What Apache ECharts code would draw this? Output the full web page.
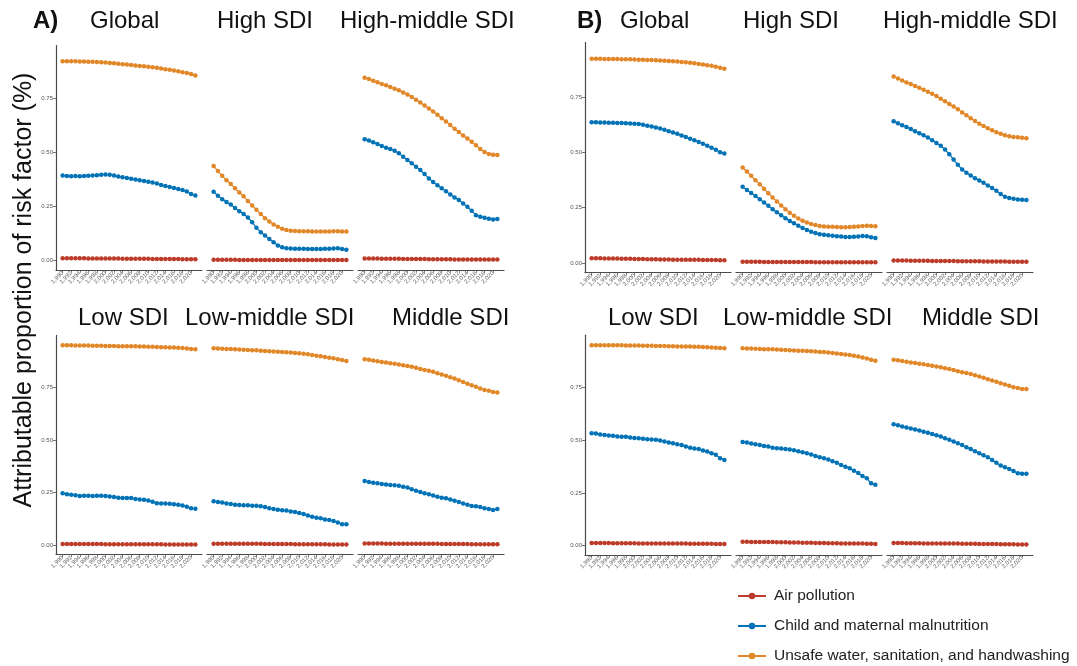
<!DOCTYPE html>
<html><head><meta charset="utf-8">
<script src="https://cdn.jsdelivr.net/npm/echarts@6/dist/echarts.min.js"></script>
<style>html,body{margin:0;padding:0;background:#fff}#c{width:1077px;height:666px}</style>
</head><body><div id="c"></div>
<script>
const years = [1990,1991,1992,1993,1994,1995,1996,1997,1998,1999,2000,2001,2002,2003,2004,2005,2006,2007,2008,2009,2010,2011,2012,2013,2014,2015,2016,2017,2018,2019,2020,2021];
const xTickYears = [1990,1992,1994,1996,1998,2000,2002,2004,2006,2008,2010,2012,2014,2016,2018,2020];
const yTickValues = [0, 0.25, 0.5, 0.75];
const seriesNames = ['Air pollution', 'Child and maternal malnutrition', 'Unsafe water, sanitation, and handwashing'];
const facetNames = ['Global', 'High SDI', 'High-middle SDI', 'Low SDI', 'Low-middle SDI', 'Middle SDI'];
const panelLabels = ['A)', 'B)'];
const yTitle = 'Attributable proportion of risk factor (%)';

// ---- Panel A ----
const A_global_air   = [.011,.011,.011,.011,.011,.011,.010,.010,.010,.010,.010,.010,.010,.010,.009,.009,.009,.009,.009,.009,.009,.008,.008,.008,.008,.008,.008,.008,.007,.007,.007,.007];
const A_global_child = [.394,.392,.391,.392,.391,.392,.393,.394,.396,.398,.399,.398,.395,.390,.386,.383,.380,.376,.372,.369,.366,.362,.357,.351,.346,.341,.337,.332,.327,.320,.309,.302];
const A_global_water = [.924,.924,.923,.923,.922,.922,.921,.921,.920,.919,.918,.916,.914,.912,.910,.908,.906,.904,.902,.900,.898,.896,.893,.890,.887,.884,.881,.877,.873,.869,.864,.858];

const A_high_air   = [.004,.004,.004,.004,.004,.004,.003,.003,.003,.003,.003,.003,.003,.003,.003,.003,.003,.003,.003,.003,.003,.003,.003,.003,.003,.003,.003,.003,.003,.003,.003,.003];
const A_high_child = [.319,.301,.285,.272,.260,.244,.229,.216,.200,.178,.152,.132,.117,.101,.085,.070,.062,.058,.056,.055,.055,.055,.054,.054,.054,.054,.055,.055,.057,.058,.054,.051];
const A_high_water = [.438,.415,.393,.373,.355,.335,.316,.298,.277,.256,.236,.216,.197,.181,.168,.157,.148,.142,.139,.137,.136,.136,.136,.135,.135,.135,.135,.135,.136,.136,.135,.135];

const A_hmid_air   = [.010,.010,.010,.010,.009,.009,.009,.009,.009,.008,.008,.008,.008,.008,.008,.007,.007,.007,.007,.007,.007,.006,.006,.006,.006,.006,.006,.006,.005,.005,.005,.005];
const A_hmid_child = [.562,.556,.548,.540,.531,.523,.517,.509,.497,.481,.466,.451,.435,.420,.401,.381,.364,.349,.335,.321,.307,.293,.281,.265,.250,.231,.211,.204,.199,.194,.191,.193];
const A_hmid_water = [.847,.841,.833,.826,.818,.812,.804,.796,.789,.779,.769,.758,.745,.733,.719,.705,.691,.676,.660,.645,.628,.611,.596,.580,.566,.551,.534,.517,.503,.494,.491,.489];

const A_low_air   = [.006,.006,.006,.006,.006,.006,.006,.006,.006,.006,.005,.005,.005,.005,.005,.005,.005,.005,.005,.005,.005,.005,.005,.005,.004,.004,.004,.004,.004,.004,.004,.004];
const A_low_child = [.247,.242,.240,.238,.234,.235,.235,.234,.235,.235,.234,.232,.229,.226,.225,.225,.224,.220,.218,.216,.213,.207,.200,.199,.199,.197,.195,.192,.189,.183,.176,.174];
const A_low_water = [.949,.949,.949,.948,.948,.948,.948,.947,.947,.947,.946,.946,.946,.945,.945,.945,.944,.944,.943,.943,.942,.942,.941,.940,.940,.939,.938,.937,.936,.934,.932,.930];

const A_lmid_air   = [.008,.008,.008,.008,.008,.007,.007,.007,.007,.007,.007,.007,.006,.006,.006,.006,.006,.006,.006,.005,.005,.005,.005,.005,.005,.005,.005,.004,.004,.004,.004,.004];
const A_lmid_child = [.209,.206,.203,.199,.196,.193,.191,.190,.190,.188,.188,.185,.182,.176,.172,.169,.166,.165,.161,.158,.153,.149,.141,.136,.131,.128,.123,.120,.116,.108,.100,.100];
const A_lmid_water = [.935,.934,.933,.932,.931,.930,.929,.928,.927,.926,.925,.923,.922,.921,.920,.919,.917,.916,.915,.913,.911,.909,.906,.903,.900,.897,.894,.890,.887,.883,.879,.875];

const A_mid_air   = [.009,.009,.009,.009,.009,.008,.008,.008,.008,.008,.008,.007,.007,.007,.007,.007,.007,.007,.006,.006,.006,.006,.006,.006,.006,.005,.005,.005,.005,.005,.005,.005];
const A_mid_child = [.305,.301,.297,.294,.291,.288,.286,.285,.283,.278,.274,.266,.259,.253,.247,.242,.236,.231,.226,.223,.218,.212,.206,.199,.193,.187,.185,.182,.176,.172,.168,.172];
const A_mid_water = [.883,.880,.877,.873,.870,.867,.864,.861,.858,.854,.851,.847,.842,.837,.832,.828,.823,.816,.810,.804,.797,.791,.783,.775,.767,.759,.752,.744,.737,.733,.728,.725];

// ---- Panel B ----
const B_global_air   = [.021,.021,.021,.020,.020,.020,.020,.019,.019,.019,.018,.018,.018,.017,.017,.017,.016,.016,.016,.015,.015,.015,.014,.014,.014,.014,.013,.013,.013,.013,.012,.012];
const B_global_child = [.635,.635,.634,.634,.633,.633,.632,.632,.631,.630,.629,.627,.624,.620,.616,.612,.607,.601,.595,.589,.583,.576,.569,.561,.554,.546,.538,.529,.520,.511,.500,.494];
const B_global_water = [.922,.922,.922,.921,.921,.921,.921,.920,.920,.920,.919,.918,.918,.917,.916,.915,.914,.913,.912,.911,.910,.908,.906,.904,.902,.899,.896,.893,.890,.886,.882,.877];

const B_high_air   = [.005,.005,.005,.005,.005,.004,.004,.004,.004,.004,.004,.004,.004,.004,.004,.004,.004,.003,.003,.003,.003,.003,.003,.003,.003,.003,.003,.003,.003,.003,.003,.003];
const B_high_child = [.344,.330,.316,.302,.288,.273,.258,.243,.229,.215,.202,.190,.179,.168,.158,.149,.141,.135,.130,.127,.125,.123,.121,.119,.117,.117,.118,.120,.122,.121,.116,.113];
const B_high_water = [.431,.413,.394,.374,.355,.335,.315,.296,.278,.260,.243,.227,.213,.201,.191,.183,.176,.171,.167,.165,.164,.163,.162,.161,.161,.162,.163,.165,.167,.168,.167,.166];

const B_hmid_air   = [.011,.011,.011,.011,.010,.010,.010,.010,.010,.009,.009,.009,.009,.009,.009,.008,.008,.008,.008,.008,.008,.007,.007,.007,.007,.007,.007,.006,.006,.006,.006,.006];
const B_hmid_child = [.640,.631,.622,.614,.605,.595,.586,.577,.566,.554,.542,.529,.512,.491,.467,.443,.422,.407,.395,.383,.372,.362,.350,.339,.326,.311,.299,.293,.290,.287,.285,.284];
const B_hmid_water = [.842,.833,.824,.815,.808,.799,.791,.782,.773,.764,.754,.742,.730,.718,.706,.694,.680,.667,.653,.641,.629,.619,.608,.599,.590,.583,.577,.572,.569,.568,.565,.563];

const B_low_air   = [.013,.013,.013,.013,.013,.012,.012,.012,.012,.012,.012,.011,.011,.011,.011,.011,.011,.010,.010,.010,.010,.010,.010,.009,.009,.009,.009,.009,.009,.008,.008,.008];
const B_low_child = [.532,.531,.526,.524,.521,.520,.517,.515,.515,.512,.510,.509,.506,.504,.502,.501,.498,.493,.488,.485,.480,.476,.469,.463,.460,.457,.450,.446,.438,.430,.414,.406];
const B_low_water = [.949,.949,.949,.949,.948,.948,.948,.948,.947,.947,.947,.947,.946,.946,.946,.945,.945,.945,.944,.944,.943,.943,.942,.942,.941,.941,.940,.939,.938,.937,.936,.934];

const B_lmid_air   = [.019,.019,.018,.018,.018,.017,.017,.017,.016,.016,.016,.015,.015,.015,.014,.014,.014,.013,.013,.013,.012,.012,.012,.011,.011,.011,.010,.010,.010,.009,.009,.008];
const B_lmid_child = [.491,.488,.483,.480,.476,.472,.469,.464,.461,.460,.458,.455,.452,.447,.442,.438,.431,.425,.419,.414,.408,.400,.392,.382,.374,.367,.355,.344,.330,.319,.295,.288];
const B_lmid_water = [.934,.933,.933,.932,.931,.930,.929,.929,.928,.927,.926,.925,.924,.923,.922,.921,.920,.919,.917,.916,.914,.912,.910,.907,.905,.902,.899,.895,.891,.886,.880,.875];

const B_mid_air   = [.013,.013,.013,.012,.012,.012,.012,.011,.011,.011,.011,.010,.010,.010,.010,.010,.009,.009,.009,.009,.008,.008,.008,.008,.008,.007,.007,.007,.007,.006,.006,.006];
const B_mid_child = [.575,.570,.564,.559,.555,.550,.545,.539,.534,.529,.523,.517,.509,.501,.493,.485,.476,.466,.457,.447,.438,.428,.419,.406,.393,.379,.371,.363,.354,.343,.341,.341];
const B_mid_water = [.880,.877,.874,.870,.867,.864,.861,.858,.855,.852,.848,.844,.840,.836,.831,.826,.821,.817,.812,.807,.801,.795,.788,.782,.776,.769,.763,.757,.750,.746,.742,.741];

// facet -> data lookup (built from the named arrays)
const facetData = [
  [A_global_air, A_global_child, A_global_water],
  [A_high_air, A_high_child, A_high_water],
  [A_hmid_air, A_hmid_child, A_hmid_water],
  [A_low_air, A_low_child, A_low_water],
  [A_lmid_air, A_lmid_child, A_lmid_water],
  [A_mid_air, A_mid_child, A_mid_water],
  [B_global_air, B_global_child, B_global_water],
  [B_high_air, B_high_child, B_high_water],
  [B_hmid_air, B_hmid_child, B_hmid_water],
  [B_low_air, B_low_child, B_low_water],
  [B_lmid_air, B_lmid_child, B_lmid_water],
  [B_mid_air, B_mid_child, B_mid_water]
];

// ---- layout (positions / styles) ----
const colors = ['#BC3C29', '#0072B5', '#E18727'];
const FONT = '"Liberation Sans", Arial, sans-serif';
const panelCols = [[56, 207, 358], [585, 736, 887]];
const facetW = 146;
const panelRows = [
  [{top: 45.6, h: 224.6}, {top: 335.4, h: 219.2}],
  [{top: 42.4, h: 230.3}, {top: 335.2, h: 219.8}]
];
const stripPos = [
  [[90, 21], [217, 21], [340, 21], [78, 318], [185, 318], [392, 318]],
  [[620, 21], [743, 21], [883, 21], [608, 318], [723, 318], [922, 318]]
];
const panelLabelPos = [[33, 21], [577, 21]];

const grids = [], xAxes = [], yAxes = [], series = [], graphics = [];
let gi = 0;
for (let p = 0; p < 2; p++) {
  for (let r = 0; r < 2; r++) {
    for (let c = 0; c < 3; c++) {
      const row = panelRows[p][r];
      grids.push({left: panelCols[p][c], width: facetW, top: row.top, height: row.h, containLabel: false});
      xAxes.push({
        type: 'value', gridIndex: gi, min: 1988.45, max: 2022.55,
        axisLine: {show: true, onZero: false, lineStyle: {color: '#4a4a4a', width: 1.2}},
        axisTick: {show: true, customValues: xTickYears, length: 2.5, lineStyle: {color: '#555', width: 0.8}},
        axisLabel: {show: true, customValues: xTickYears, rotate: 45, fontSize: 6, color: '#666', margin: 2, fontFamily: FONT},
        splitLine: {show: false}
      });
      const first = c === 0;
      yAxes.push({
        type: 'value', gridIndex: gi, min: -0.044, max: 0.996,
        axisLine: {show: first, lineStyle: {color: '#4a4a4a', width: 1.2}},
        axisTick: {show: first, customValues: yTickValues, length: 3, lineStyle: {color: '#555', width: 0.8}},
        axisLabel: {show: first, customValues: yTickValues, fontSize: 6, color: '#555', margin: 3, fontFamily: FONT,
                    formatter: v => v.toFixed(2)},
        splitLine: {show: false}
      });
      const d = facetData[gi];
      for (let s = 0; s < 3; s++) {
        series.push({
          type: 'line', name: seriesNames[s], xAxisIndex: gi, yAxisIndex: gi,
          data: years.map((y, k) => [y, d[s][k]]),
          symbol: 'circle', symbolSize: 4.5, showSymbol: true,
          lineStyle: {color: colors[s], width: 1.2},
          itemStyle: {color: colors[s]},
          animation: false, silent: true
        });
      }
      const sp = stripPos[p][r * 3 + c];
      graphics.push({type: 'text', x: sp[0], y: sp[1],
        style: {text: facetNames[r * 3 + c], font: '24px ' + FONT, fill: '#111', textAlign: 'left', textVerticalAlign: 'middle'}});
      gi++;
    }
  }
  graphics.push({type: 'text', x: panelLabelPos[p][0], y: panelLabelPos[p][1],
    style: {text: panelLabels[p], font: 'bold 24px ' + FONT, fill: '#111', textAlign: 'left', textVerticalAlign: 'middle'}});
}
graphics.push({type: 'text', x: 24, y: 290, rotation: Math.PI / 2,
  style: {text: yTitle, font: '25px ' + FONT, fill: '#111', textAlign: 'center', textVerticalAlign: 'middle'}});

const chart = echarts.init(document.getElementById('c'), null, {renderer: 'canvas'});
chart.setOption({
  backgroundColor: '#fff',
  animation: false,
  grid: grids, xAxis: xAxes, yAxis: yAxes, series: series,
  legend: {
    data: seriesNames, orient: 'vertical', left: 737, top: 588, padding: 0, height: 78,
    itemWidth: 28, itemHeight: 8, itemGap: 14,
    textStyle: {fontSize: 15.5, color: '#222', fontFamily: FONT, padding: [0, 0, 0, 3]}
  },
  graphic: graphics
});
</script></body></html>
